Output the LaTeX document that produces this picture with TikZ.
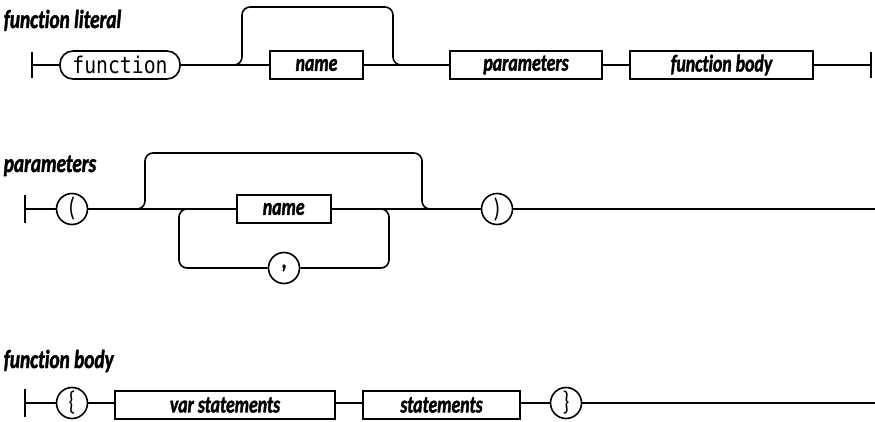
\documentclass[tikz,border=0pt]{standalone}
\usepackage{fontspec}
\usepackage{tikz}
\newfontfamily\lblfont{Carlito}[FakeStretch=0.74, FakeBold=1.6, Ligatures=NoCommon]
\newfontfamily\symfont{Carlito}[FakeStretch=0.8]
\newfontfamily\monofont{DejaVu Sans Mono}[FakeStretch=0.86]

\begin{document}
\begin{tikzpicture}[x=1pt, y=-1pt, line width=1.6pt,
  lbl/.style={font=\fontsize{24}{26}\lblfont\bfseries\itshape},
  title/.style={font=\fontsize{26}{28}\lblfont\bfseries\itshape, anchor=base west, inner sep=0pt},
  nonterm/.style={draw, rectangle, lbl, minimum height=28pt, inner sep=0pt},
  term/.style={draw, circle, minimum size=31pt, inner sep=0pt, font=\fontsize{27}{28}\symfont},
  bar/.style={line width=1.8pt},
  rc/.style={rounded corners=8pt}]
\useasboundingbox (0,0) rectangle (875,422);

\node[title] (t1) at (3,28) {function literal};
\coordinate (s1) at (32,65);
\node[draw, rounded corners=13pt, minimum width=120pt, minimum height=28pt, inner sep=0pt,
  font=\fontsize{23}{24}\monofont] (fn) at (120,65) {function};
\node[nonterm, minimum width=93pt] (fname) at (316.5,65) {name};
\node[nonterm, minimum width=152pt] (params) at (526,65) {parameters};
\node[nonterm, minimum width=183pt] (body) at (721.5,65) {function body};
\coordinate (e1) at (871,65);
\draw[bar] ([yshift=13pt]s1) -- ([yshift=-13pt]s1);
\draw (s1) -- (fn.west);
\draw (fn.east) -- (fname.west);
\draw (fname.east) -- (params.west);
\draw (params.east) -- (body.west);
\draw (body.east) -- (e1);
\draw[bar] ([yshift=13pt]e1) -- ([yshift=-13pt]e1);
\draw[rc] (225,65) -- (242,65) -- (242,7) -- (393,7) -- (393,65) -- (410,65);

\node[title] (t2) at (3,172) {parameters};
\coordinate (s2) at (25,209);
\node[term] (lpar) at (72,209) {(};
\node[nonterm, minimum width=94pt] (pname) at (283.7,209) {name};
\node[term, font=\fontsize{24}{26}\lblfont\bfseries] (comma) at (284,268) {,};
\node[term] (rpar) at (497,209) {)};
\coordinate (e2) at (875,209);
\draw[bar] ([yshift=14pt]s2) -- ([yshift=-14pt]s2);
\draw (s2) -- (lpar.west);
\draw (lpar.east) -- (pname.west);
\draw (pname.east) -- (rpar.west);
\draw (rpar.east) -- (e2);
\draw[rc] (128,209) -- (145,209) -- (145,153) -- (422,153) -- (422,209) -- (440,209);
\draw[rc] (comma.west) -- (179,268) -- (179,209) -- (200,209);
\draw[rc] (comma.east) -- (389,268) -- (389,209) -- (370,209);

\node[title] (t3) at (3,368) {function body};
\coordinate (s3) at (25,403);
\node[term] (lbrace) at (72,403) {\{};
\node[nonterm, minimum width=220pt] (vars) at (225,405) {var statements};
\node[nonterm, minimum width=157pt] (stmts) at (441.5,405) {statements};
\node[term] (rbrace) at (566,403) {\}};
\coordinate (e3) at (875,403);
\draw[bar] ([yshift=14pt]s3) -- ([yshift=-14pt]s3);
\draw (s3) -- (lbrace.west);
\draw (lbrace.east) -- (vars.west |- lbrace);
\draw (vars.east |- lbrace) -- (stmts.west |- lbrace);
\draw (stmts.east |- lbrace) -- (rbrace.west);
\draw (rbrace.east) -- (e3);
\end{tikzpicture}
\end{document}
